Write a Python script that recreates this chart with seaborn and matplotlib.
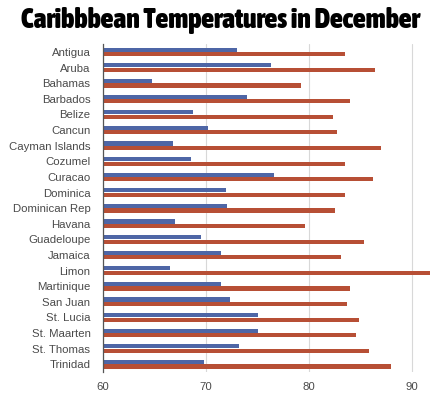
import pandas as pd
import matplotlib
matplotlib.use("Agg")
import matplotlib.pyplot as plt
from matplotlib import font_manager
import seaborn as sns

# =========================
# DATA
# =========================
places = ["Antigua", "Aruba", "Bahamas", "Barbados", "Belize", "Cancun",
          "Cayman Islands", "Cozumel", "Curacao", "Dominica", "Dominican Rep",
          "Havana", "Guadeloupe", "Jamaica", "Limon", "Martinique", "San Juan",
          "St. Lucia", "St. Maarten", "St. Thomas", "Trinidad"]
low_temps = [73.0, 76.3, 64.8, 74.0, 68.7, 70.2, 66.8, 68.5, 76.6, 71.9, 72.0,
             67.0, 69.5, 71.4, 66.5, 71.4, 72.3, 75.0, 75.0, 73.2, 69.8]
high_temps = [83.5, 86.4, 79.2, 84.0, 82.3, 82.7, 87.0, 83.5, 86.2, 83.5, 82.5,
              79.6, 85.3, 83.1, 91.7, 84.0, 83.7, 84.8, 84.5, 85.8, 87.9]
x_ticks = [60, 70, 80, 90]

df = pd.DataFrame({"place": places * 2,
                   "temp": low_temps + high_temps,
                   "kind": ["Low"] * len(places) + ["High"] * len(places)})

# =========================
# PLOT
# =========================
sns.set_style("white")
plt.rcParams["font.family"] = ["Liberation Sans", "DejaVu Sans"]

fig = plt.figure(figsize=(4.4, 3.95), dpi=100)
ax = fig.add_axes([0.234, 0.058, 0.75, 0.83])

sns.barplot(data=df, y="place", x="temp", hue="kind", orient="h",
            palette=["#3f5fb5", "#cc4220"], width=0.58, gap=0.08,
            linewidth=0, legend=False, ax=ax)

ax.set_xlim(60, 92)
ax.set_xticks(x_ticks)
ax.set_xlabel("")
ax.set_ylabel("")
ax.grid(axis="x", color="#d8d8d8", linewidth=0.8)
ax.set_axisbelow(True)
for side in ["top", "right", "bottom"]:
    ax.spines[side].set_visible(False)
ax.spines["left"].set_color("#555555")
ax.spines["left"].set_linewidth(0.9)
ax.tick_params(axis="both", length=0, colors="#4a4a4a", labelsize=8.2)
ax.tick_params(axis="y", pad=9)
ax.tick_params(axis="x", pad=7)

# title: a narrow / condensed bold face if one is installed
title_font = None
for f in font_manager.fontManager.ttflist:
    name = f.name.lower()
    if ("narrow" in name or "condensed" in name or "compressed" in name) and f.weight in (700, "bold", 800, 900, "heavy", "black"):
        title_font = font_manager.FontProperties(fname=f.fname)
        break
if title_font is None:
    for f in font_manager.fontManager.ttflist:
        if f.stretch in ("condensed", "semi-condensed", "extra-condensed") and f.weight in (700, "bold", 800, 900):
            title_font = font_manager.FontProperties(fname=f.fname)
            break
if title_font is None:
    title_font = font_manager.FontProperties(family="DejaVu Sans", weight="bold")

title = fig.text(0.5, 0.947, "Caribbbean Temperatures in December",
                 ha="center", va="center", fontproperties=title_font,
                 color="black")
title.set_fontsize(22)
# shrink to fit the reference width (~398 px)
fig.canvas.draw()
w = title.get_window_extent().width
title.set_fontsize(22 * 398 / w)

fig.savefig("out.png", dpi=100)
